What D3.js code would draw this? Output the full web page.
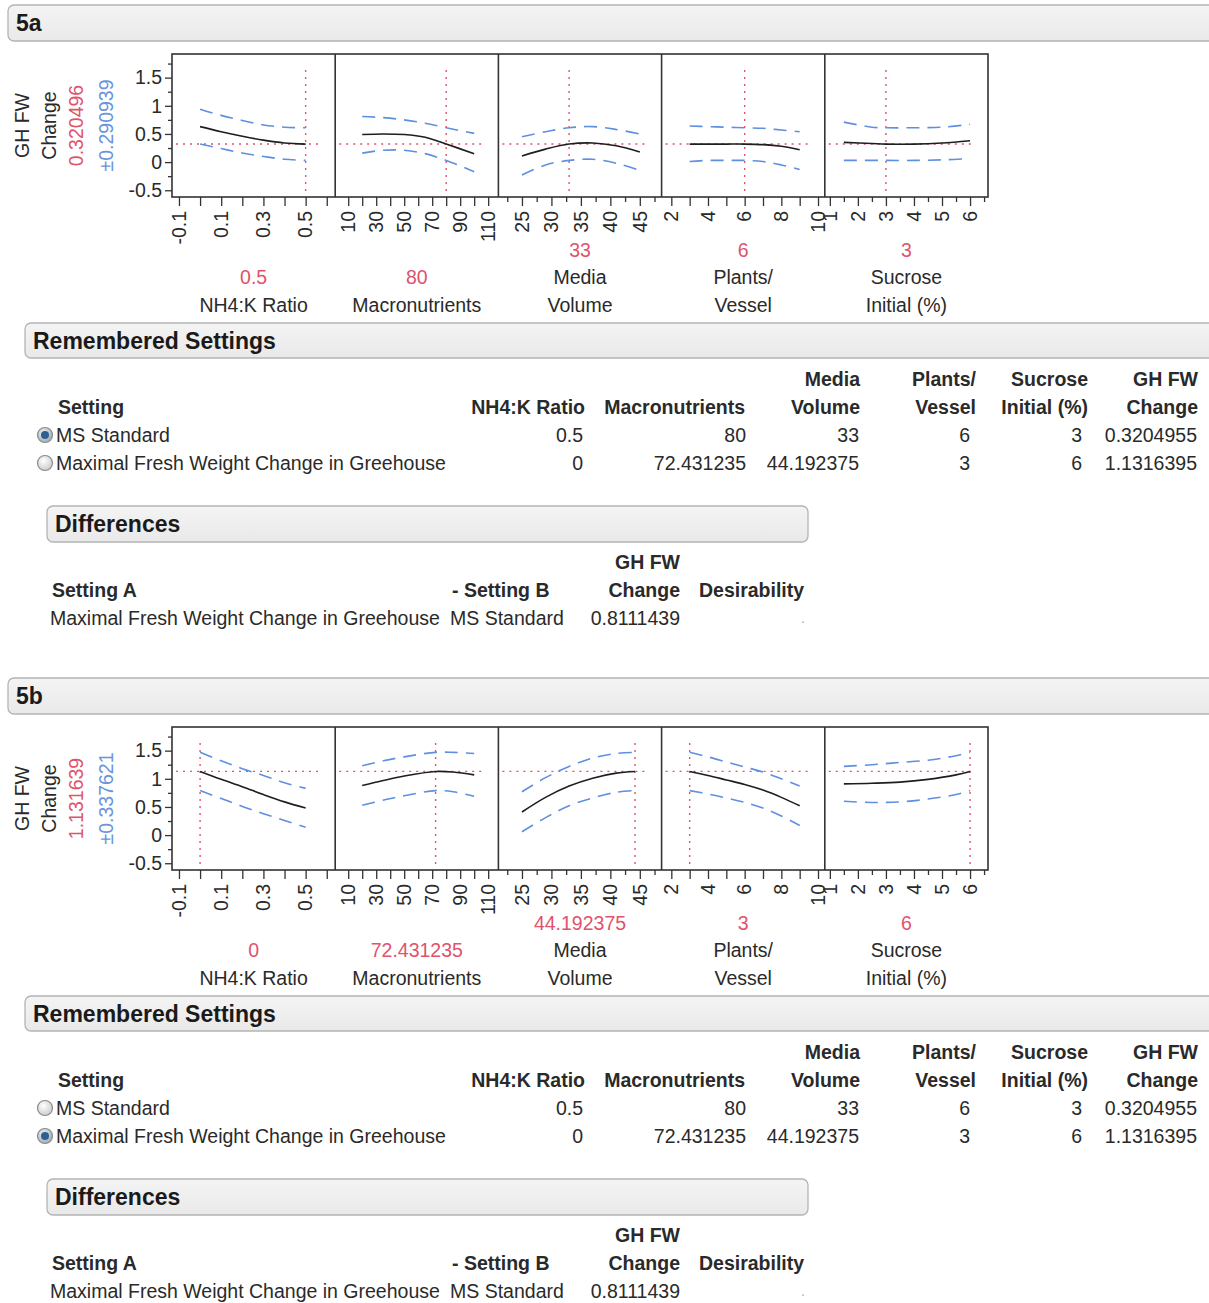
<!DOCTYPE html>
<html>
<head>
<meta charset="utf-8">
<script src="https://cdn.jsdelivr.net/npm/d3@7"></script>
<style>
  body { margin: 0; background: #fff; }
  svg { display: block; font-family: "Liberation Sans", Arial, sans-serif; }
</style>
</head>
<body>
<svg id="chart" width="1209" height="1303"></svg>
<script>
// ---- Factors and axes ----
const factorNames = [["NH4:K Ratio"], ["Macronutrients"], ["Media", "Volume"], ["Plants/", "Vessel"], ["Sucrose", "Initial (%)"]];
const factorDomains = [[-0.133, 0.64], [0.7, 117.3], [21.0, 48.7], [1.47, 10.37], [0.82, 6.64]];
const majorTicks = [
  [-0.1, 0, 0.1, 0.2, 0.3, 0.4, 0.5, 0.6],
  [10, 20, 30, 40, 50, 60, 70, 80, 90, 100, 110],
  [25, 30, 35, 40, 45],
  [2, 3, 4, 5, 6, 7, 8, 9, 10],
  [1, 2, 3, 4, 5, 6]
];
const minorTicks = [[], [], [22.5, 27.5, 32.5, 37.5, 42.5, 47.5], [], [1.5, 2.5, 3.5, 4.5, 5.5, 6.5]];
const tickLabels = [[-0.1, 0.1, 0.3, 0.5], [10, 30, 50, 70, 90, 110], [25, 30, 35, 40, 45], [2, 4, 6, 8, 10], [1, 2, 3, 4, 5, 6]];
const yDomain = [-0.62, 1.92];
const yMajor = [-0.5, 0, 0.5, 1, 1.5];
const yMinor = [-0.25, 0.25, 0.75, 1.25, 1.75];
const responseName = ["GH FW", "Change"];

// ---- Current factor settings and predictions ----
const settingMS = [0.5, 80, 33, 6, 3];
const predMS = 0.320496, ciMS = 0.290939;
const settingMax = [0, 72.431235, 44.192375, 3, 6];
const predMax = 1.131639, ciMax = 0.337621;

// ---- Prediction traces (MS Standard setting) ----
const msNH4   = { x: [0, 0.1, 0.2, 0.3, 0.4, 0.5], pred: [0.63, 0.54, 0.46, 0.39, 0.34, 0.32], lower: [0.32, 0.24, 0.16, 0.10, 0.05, 0.03], upper: [0.94, 0.83, 0.74, 0.66, 0.62, 0.61] };
const msMacro = { x: [20, 35, 50, 65, 80, 100], pred: [0.49, 0.50, 0.49, 0.44, 0.32, 0.15], lower: [0.16, 0.21, 0.21, 0.15, 0.03, -0.17], upper: [0.81, 0.79, 0.75, 0.69, 0.61, 0.51] };
const msMedia = { x: [25, 29, 33, 37, 41, 45], pred: [0.11, 0.23, 0.32, 0.34, 0.29, 0.18], lower: [-0.23, -0.05, 0.03, 0.05, -0.02, -0.15], upper: [0.45, 0.54, 0.61, 0.63, 0.58, 0.50] };
const msPlants = { x: [3, 4, 5, 6, 7, 8, 9], pred: [0.32, 0.32, 0.32, 0.32, 0.31, 0.28, 0.22], lower: [0.01, 0.03, 0.03, 0.03, 0.01, -0.05, -0.13], upper: [0.64, 0.63, 0.62, 0.61, 0.60, 0.57, 0.54] };
const msSucrose = { x: [1.5, 2.5, 3, 4, 5, 6], pred: [0.35, 0.33, 0.32, 0.32, 0.34, 0.38], lower: [0.03, 0.03, 0.03, 0.03, 0.04, 0.06], upper: [0.71, 0.62, 0.61, 0.61, 0.62, 0.67] };

// ---- Prediction traces (maximal fresh weight setting) ----
const mxNH4   = { x: [0, 0.1, 0.2, 0.3, 0.4, 0.5], pred: [1.13, 0.99, 0.86, 0.72, 0.59, 0.48], lower: [0.79, 0.65, 0.51, 0.38, 0.26, 0.14], upper: [1.47, 1.32, 1.18, 1.06, 0.93, 0.83] };
const mxMacro = { x: [20, 35, 50, 72.43, 85, 100], pred: [0.88, 0.97, 1.05, 1.13, 1.12, 1.07], lower: [0.53, 0.62, 0.70, 0.79, 0.77, 0.69], upper: [1.23, 1.32, 1.39, 1.47, 1.47, 1.45] };
const mxMedia = { x: [25, 29, 33, 37, 41, 44.19], pred: [0.41, 0.67, 0.87, 1.01, 1.10, 1.13], lower: [0.06, 0.31, 0.52, 0.66, 0.76, 0.79], upper: [0.77, 1.02, 1.22, 1.37, 1.45, 1.47] };
const mxPlants = { x: [3, 4, 5, 6, 7, 8, 9], pred: [1.13, 1.06, 0.98, 0.90, 0.80, 0.67, 0.52], lower: [0.79, 0.73, 0.66, 0.58, 0.48, 0.34, 0.17], upper: [1.47, 1.39, 1.30, 1.21, 1.12, 1.00, 0.87] };
const mxSucrose = { x: [1.5, 2.5, 3.5, 4.5, 5.5, 6], pred: [0.91, 0.92, 0.94, 0.99, 1.07, 1.13], lower: [0.60, 0.58, 0.59, 0.64, 0.72, 0.79], upper: [1.22, 1.25, 1.29, 1.33, 1.41, 1.47] };

// ---- Remembered settings table ----
const settingsHeader1 = ["", "", "Media", "Plants/", "Sucrose", "GH FW"];
const settingsHeader2 = ["NH4:K Ratio", "Macronutrients", "Volume", "Vessel", "Initial (%)", "Change"];
const settingNames = ["MS Standard", "Maximal Fresh Weight Change in Greehouse"];
const settingValues = [
  ["0.5", "80", "33", "6", "3", "0.3204955"],
  ["0", "72.431235", "44.192375", "3", "6", "1.1316395"]
];
const differenceValue = "0.8111439";

// ---- Styling ----
const textColor = "#2a2a2a";
const redColor = "#e0536b";
const blueColor = "#6a94dc";
const dashColor = "#5f8fe0";
const fontSize = 19.5;

const svg = d3.select("#chart");

// gradients for section headers and radio buttons
const defs = svg.append("defs");
const grad = defs.append("linearGradient").attr("id", "hdr").attr("x1", 0).attr("y1", 0).attr("x2", 0).attr("y2", 1);
grad.append("stop").attr("offset", "0%").attr("stop-color", "#f4f4f4");
grad.append("stop").attr("offset", "100%").attr("stop-color", "#e9e9e9");
const rg = defs.append("radialGradient").attr("id", "radioOff").attr("cx", "40%").attr("cy", "35%").attr("r", "70%");
rg.append("stop").attr("offset", "0%").attr("stop-color", "#ffffff");
rg.append("stop").attr("offset", "100%").attr("stop-color", "#c9c9c9");
const rg2 = defs.append("radialGradient").attr("id", "radioOn").attr("cx", "40%").attr("cy", "35%").attr("r", "70%");
rg2.append("stop").attr("offset", "0%").attr("stop-color", "#f0f4f8");
rg2.append("stop").attr("offset", "100%").attr("stop-color", "#9aa7b4");

function headerBar(x, y, w, h, label) {
  svg.append("rect").attr("x", x).attr("y", y).attr("width", w).attr("height", h)
    .attr("rx", 6).attr("fill", "url(#hdr)").attr("stroke", "#b4b4b4").attr("stroke-width", 1.3);
  svg.append("text").attr("x", x + 8).attr("y", y + h / 2).attr("dy", "0.36em")
    .attr("font-weight", "bold").attr("font-size", 23).attr("fill", "#1a1a1a").text(label);
}

const plotLeft = 172, plotRight = 988, plotH = 143;
const panelW = (plotRight - plotLeft) / 5;

function drawProfiler(top, setting, curves, pred, ci) {
  const g = svg.append("g");
  const y = d3.scaleLinear().domain(yDomain).range([top + plotH, top]);
  const yc = top + plotH / 2;

  // response title, current value and interval
  const titles = [[responseName[0], 22, textColor], [responseName[1], 49, textColor],
                  [String(pred), 76, redColor], ["\u00B1" + ci, 106, blueColor]];
  titles.forEach(([t, x, c]) => {
    g.append("text").attr("transform", `translate(${x},${yc}) rotate(-90)`)
      .attr("text-anchor", "middle").attr("dy", "0.35em")
      .attr("font-size", fontSize).attr("fill", c).text(t);
  });

  // y axis
  const yAx = g.append("g").attr("transform", `translate(${plotLeft},0)`)
    .call(d3.axisLeft(y).tickValues(yMajor).tickSize(7).tickPadding(3).tickFormat(d => String(d)));
  const yAxMinor = g.append("g").attr("transform", `translate(${plotLeft},0)`)
    .call(d3.axisLeft(y).tickValues(yMinor).tickSize(4).tickFormat(""));
  [yAx, yAxMinor].forEach(a => {
    a.select(".domain").remove();
    a.selectAll("line").attr("stroke", "#333").attr("stroke-width", 1.3);
    a.selectAll("text").attr("font-size", fontSize).attr("fill", textColor).attr("font-family", "Liberation Sans, Arial, sans-serif");
  });

  const line = d3.line().curve(d3.curveCatmullRom.alpha(0.5));

  curves.forEach((c, i) => {
    const x0 = plotLeft + i * panelW;
    const x = d3.scaleLinear().domain(factorDomains[i]).range([x0, x0 + panelW]);

    // x ticks
    const axMaj = g.append("g").attr("transform", `translate(0,${top + plotH})`)
      .call(d3.axisBottom(x).tickValues(majorTicks[i]).tickSize(9).tickFormat(""));
    const axMin = g.append("g").attr("transform", `translate(0,${top + plotH})`)
      .call(d3.axisBottom(x).tickValues(minorTicks[i]).tickSize(5).tickFormat(""));
    [axMaj, axMin].forEach(a => {
      a.select(".domain").remove();
      a.selectAll("line").attr("stroke", "#333").attr("stroke-width", 1.3);
    });
    tickLabels[i].forEach(v => {
      g.append("text").attr("transform", `translate(${x(v)},${top + plotH + 14}) rotate(-90)`)
        .attr("text-anchor", "end").attr("dy", "0.35em")
        .attr("font-size", fontSize).attr("fill", textColor).text(String(v));
    });

    // reference lines at the current setting
    g.append("line").attr("x1", x0 + 4).attr("x2", x0 + panelW - 13)
      .attr("y1", y(pred)).attr("y2", y(pred))
      .attr("stroke", redColor).attr("stroke-width", 1.4).attr("stroke-dasharray", "2,5");
    g.append("line").attr("x1", x(setting[i])).attr("x2", x(setting[i]))
      .attr("y1", top + 16).attr("y2", top + plotH - 4)
      .attr("stroke", redColor).attr("stroke-width", 1.4).attr("stroke-dasharray", "2,5");

    // confidence band and prediction trace
    ["upper", "lower"].forEach(k => {
      g.append("path").attr("d", line(c.x.map((v, j) => [x(v), y(c[k][j])])))
        .attr("fill", "none").attr("stroke", dashColor).attr("stroke-width", 1.6)
        .attr("stroke-dasharray", "13,8");
    });
    g.append("path").attr("d", line(c.x.map((v, j) => [x(v), y(c.pred[j])])))
      .attr("fill", "none").attr("stroke", "#1e1e1e").attr("stroke-width", 1.6);

    // factor label and current value
    const cx = x0 + panelW / 2;
    const names = factorNames[i];
    const lastY = top + 251;
    names.forEach((n, k) => {
      g.append("text").attr("x", cx).attr("y", lastY - (names.length - 1 - k) * 27.5).attr("dy", "0.35em")
        .attr("text-anchor", "middle").attr("font-size", fontSize).attr("fill", textColor).text(n);
    });
    g.append("text").attr("x", cx).attr("y", lastY - names.length * 27.5).attr("dy", "0.35em")
      .attr("text-anchor", "middle").attr("font-size", fontSize).attr("fill", redColor).text(String(setting[i]));

    // panel separator
    if (i > 0) {
      g.append("line").attr("x1", x0).attr("x2", x0).attr("y1", top).attr("y2", top + plotH)
        .attr("stroke", "#333").attr("stroke-width", 1.6);
    }
  });

  g.append("rect").attr("x", plotLeft).attr("y", top).attr("width", plotRight - plotLeft).attr("height", plotH)
    .attr("fill", "none").attr("stroke", "#333").attr("stroke-width", 1.6);
}

function txt(x, y, s, opts = {}) {
  return svg.append("text").attr("x", x).attr("y", y).attr("dy", "0.35em")
    .attr("font-size", opts.size || fontSize)
    .attr("font-weight", opts.bold ? "bold" : "normal")
    .attr("text-anchor", opts.anchor || "start")
    .attr("fill", opts.color || textColor).text(s);
}

function drawTables(off, selected) {
  headerBar(25, 323 + off, 1200, 35, "Remembered Settings");
  const colRight = [585, 745, 860, 976, 1088, 1198];
  const valRight = [583, 746, 859, 970, 1082, 1197];
  txt(58, 407 + off, "Setting", { bold: true });
  settingsHeader1.forEach((h, i) => { if (h) txt(colRight[i], 379 + off, h, { bold: true, anchor: "end" }); });
  settingsHeader2.forEach((h, i) => txt(colRight[i], 407 + off, h, { bold: true, anchor: "end" }));
  settingNames.forEach((n, r) => {
    const ry = 435 + r * 28 + off;
    const on = r === selected;
    svg.append("circle").attr("cx", 45).attr("cy", ry).attr("r", 7.5)
      .attr("fill", on ? "url(#radioOn)" : "url(#radioOff)").attr("stroke", "#8a8a8a").attr("stroke-width", 1.2);
    if (on) svg.append("circle").attr("cx", 45).attr("cy", ry).attr("r", 4).attr("fill", "#2f5f8f");
    txt(56, ry, n);
    settingValues[r].forEach((v, i) => txt(valRight[i], ry, v, { anchor: "end" }));
  });

  headerBar(47, 506 + off, 761, 36, "Differences");
  txt(680, 562 + off, "GH FW", { bold: true, anchor: "end" });
  txt(52, 590 + off, "Setting A", { bold: true });
  txt(452, 590 + off, "- Setting B", { bold: true });
  txt(680, 590 + off, "Change", { bold: true, anchor: "end" });
  txt(699, 590 + off, "Desirability", { bold: true });
  txt(50, 618 + off, settingNames[1]);
  txt(450, 618 + off, settingNames[0]);
  txt(680, 618 + off, differenceValue, { anchor: "end" });
  // missing desirability shown as a faint dot
  txt(801, 618 + off, ".", { color: "#aaa", size: 14 });
}

// 5a: MS Standard
headerBar(8, 5, 1220, 36, "5a");
drawProfiler(54, settingMS, [msNH4, msMacro, msMedia, msPlants, msSucrose], predMS, ciMS);
drawTables(0, 0);

// 5b: maximal fresh weight change
headerBar(8, 678, 1220, 36, "5b");
drawProfiler(727, settingMax, [mxNH4, mxMacro, mxMedia, mxPlants, mxSucrose], predMax, ciMax);
drawTables(673, 1);
</script>
</body>
</html>
